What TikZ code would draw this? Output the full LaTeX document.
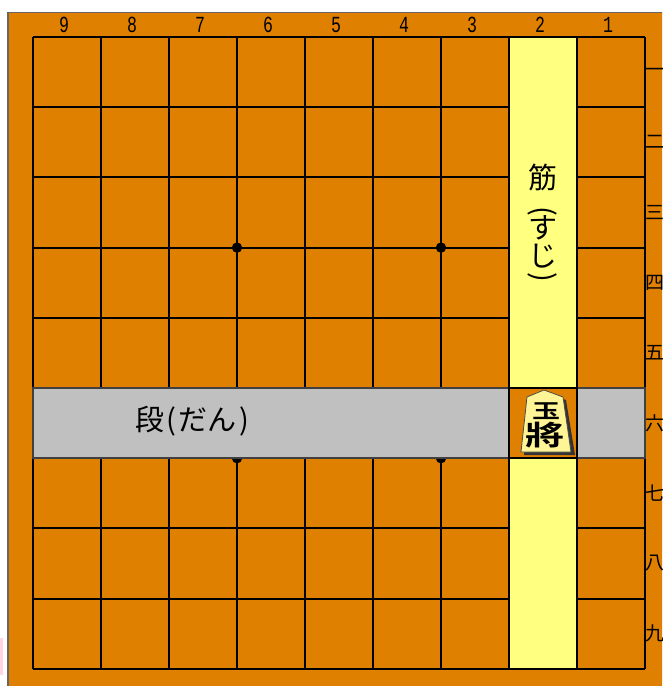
\documentclass[tikz,border=0pt]{standalone}
\usepackage{fontspec}
\newfontfamily\jp{Noto Sans CJK JP}
\newfontfamily\jpb{Noto Sans CJK JP Bold}
\newfontfamily\digitfont{Liberation Mono}
\definecolor{boardorange}{RGB}{224,128,0}
\definecolor{lightyellow}{RGB}{255,255,128}
\definecolor{bandgray}{RGB}{192,192,192}
\definecolor{piecefill}{RGB}{255,245,150}
\definecolor{pinkish}{RGB}{255,214,228}
\newcommand{\hw}[1]{\makebox[0.5em]{#1}}
\tikzset{
  gridline/.style={line width=2pt, black},
  colnum/.style={inner sep=0pt, font=\digitfont\fontsize{23}{23}\selectfont, xscale=0.72},
  rowkanji/.style={inner sep=0pt, anchor=west, font=\jp\fontsize{19}{19}\selectfont},
  labeltext/.style={inner sep=0pt, font=\jp\fontsize{29}{29}\selectfont},
  hoshi/.style={fill=black},
}
\begin{document}
\begin{tikzpicture}[x=1pt,y=-1pt]
\useasboundingbox (0,0) rectangle (662,686);
\clip (0,0) rectangle (662,686);
\fill[white] (0,0) rectangle (662,686);
\fill[pinkish] (0,638) rectangle (3,675);
% board
\fill[boardorange] (8,12.5) rectangle (700,720);
\draw[black!60, line width=1.4pt] (8,720) -- (8,12.5) -- (700,12.5);
% grid
\foreach \i in {0,...,9} {
  \draw[gridline] ({33+\i*68},37) -- ({33+\i*68},668.8);
  \draw[gridline] (33,{37+\i*70.2}) -- (645,{37+\i*70.2});
}
% star points
\foreach \p in {(237,247.6),(441,247.6),(237,458.2),(441,458.2)}
  \fill[hoshi] \p circle (5.2);
% rank band (dan)
\filldraw[fill=bandgray, draw=black!75, line width=2pt] (33,388.4) rectangle (645,458.2);
% file column (suji)
\filldraw[fill=lightyellow, draw=black, line width=2pt] (509,37) rectangle (577,388.4);
\filldraw[fill=lightyellow, draw=black, line width=2pt] (509,458.2) rectangle (577,668.8);
\filldraw[fill=boardorange, draw=black, line width=2pt] (509,388.4) rectangle (577,458.2);
% piece
\fill[black!80] (547,393) -- (566,400) -- (575,455) -- (524,455) -- (530,400) -- cycle;
\filldraw[fill=piecefill, draw=black!70, line width=0.8pt] (544,390) -- (563,397) -- (571,452) -- (521,452) -- (527,397) -- cycle;
\node[inner sep=0pt, font=\jpb\fontsize{20}{20}\selectfont, xscale=1.4] (pieceA) at (546,411) {玉};
\node[inner sep=0pt, font=\jpb\fontsize{29}{29}\selectfont, xscale=1.35, yscale=0.95] (pieceB) at (545,435) {將};
% column numbers
\foreach \n [count=\k from 0] in {9,8,7,6,5,4,3,2,1}
  \node[colnum] (col\n) at ({33+\k*68+34-3},25) {\n};
% row kanji on the right
\foreach \r [count=\k from 0] in {一,二,三,四,五,六,七,八,九}
  \node[rowkanji] (row\k) at (645.5,{37+\k*70.2+35}) {\r};
% labels
\node[labeltext, anchor=west] (dan) at (135,421) {段\hw{(}だん\hw{)}};
\node[labeltext] (sujiA) at (543,177) {筋};
\node[labeltext, rotate=-90] (sujiB) at (543,211) {(};
\node[labeltext] (sujiC) at (543,228) {す};
\node[labeltext] (sujiD) at (543,256) {じ};
\node[labeltext, rotate=-90] (sujiE) at (543,277) {)};
\end{tikzpicture}
\end{document}
